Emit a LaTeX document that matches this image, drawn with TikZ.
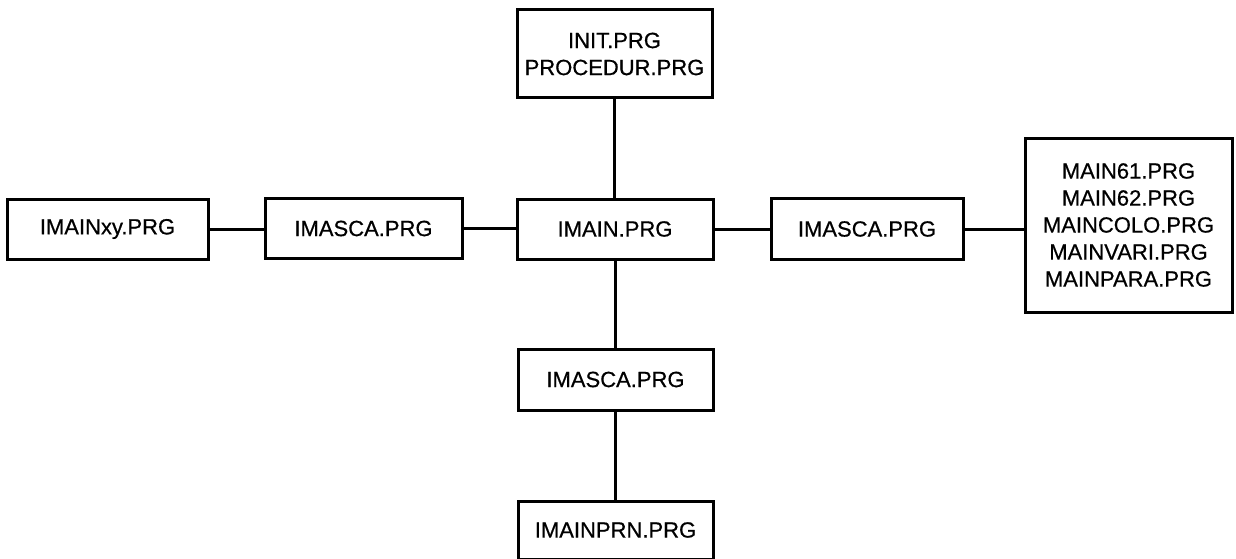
\documentclass[tikz,border=0pt]{standalone}
\usepackage{fontspec}
\setmainfont{Liberation Sans}
\newfontfamily\scanfont{Liberation Sans}[FakeBold=0.6]
\begin{document}
\begin{tikzpicture}[x=1pt,y=-1pt,
  filebox/.style={draw=black, line width=3pt, inner sep=0pt, align=center,
    font=\scanfont\fontsize{22}{27}\selectfont, text=black},
  link/.style={draw=black, line width=3pt}]
\useasboundingbox (0,0) rectangle (1236,559);
\node[filebox, minimum width=195pt, minimum height=88pt] (init) at (614.5,54) {INIT.PRG\\PROCEDUR.PRG};
\node[filebox, minimum width=201pt, minimum height=60pt] (xy) at (107.5,229) {IMAINxy.PRG};
\node[filebox, minimum width=197pt, minimum height=60pt] (scaL) at (363.5,228.5) {IMASCA.PRG};
\node[filebox, minimum width=196pt, minimum height=60pt] (imain) at (615,229) {IMAIN.PRG};
\node[filebox, minimum width=192pt, minimum height=61pt] (scaR) at (867,229) {IMASCA.PRG};
\node[filebox, minimum width=207pt, minimum height=174pt] (mainlist) at (1128.5,225) {MAIN61.PRG\\MAIN62.PRG\\MAINCOLO.PRG\\MAINVARI.PRG\\MAINPARA.PRG};
\node[filebox, minimum width=195pt, minimum height=61pt] (scaB) at (615.5,379.5) {IMASCA.PRG};
\node[filebox, minimum width=195pt, minimum height=58pt] (prn) at (615.5,530) {IMAINPRN.PRG};
\draw[link] (xy.east) -- (xy.east -| scaL.west);
\draw[link] (scaL.east) -- (scaL.east -| imain.west);
\draw[link] (imain.east) -- (imain.east -| scaR.west);
\draw[link] (scaR.east) -- (scaR.east -| mainlist.west);
\draw[link] (init.south) -- (init.south |- imain.north);
\draw[link] (imain.south) -- (imain.south |- scaB.north);
\draw[link] (scaB.south) -- (scaB.south |- prn.north);
\end{tikzpicture}
\end{document}
